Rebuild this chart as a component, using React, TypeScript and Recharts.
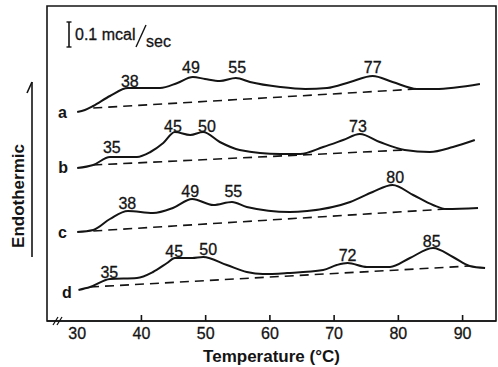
import { LineChart, Line, XAxis, YAxis, ReferenceDot, ReferenceArea } from 'recharts';

const FONT = '"Liberation Sans", Arial, Helvetica, sans-serif';
const INK = '#141414';

// temperature (°C) and heat flow (arbitrary units) for each sample
const tempA = [30.0, 31.2, 32.5, 35.1, 37.9, 42.9, 45.6, 48.0, 49.9, 52.2, 54.7, 56.9, 61.6, 65.5, 68.9, 72.5, 76.0, 79.1, 82.9, 85.7, 92.7];
const heatA = [209, 211, 215, 225, 233, 233, 238, 244, 242, 240, 243, 239, 234, 232, 233, 239, 245, 239, 232, 232, 237];

const tempB = [30.0, 32.5, 35.1, 39.3, 41.4, 43.4, 45.2, 47.6, 49.6, 52.2, 55.3, 61.6, 64.7, 68.3, 71.4, 74.0, 77.1, 81.0, 84.9, 88.5, 91.9];
const heatB = [153, 156, 164, 164, 169, 178, 189, 186, 189, 179, 171, 167, 167, 174, 181, 187, 179, 171, 169, 174, 181];

const tempC = [30.0, 32.5, 35.1, 37.9, 41.8, 44.9, 47.9, 51.2, 54.1, 56.4, 63.1, 65.8, 72.5, 76.0, 79.1, 82.3, 85.4, 87.5, 92.4];
const heatC = [89, 91, 102, 110, 108, 113, 122, 116, 119, 114, 109, 110, 119, 129, 136, 126, 116, 112, 113];

const tempD = [30.2, 32.0, 35.1, 39.3, 41.8, 44.0, 45.2, 47.9, 49.6, 53.3, 56.4, 58.9, 62.7, 68.3, 70.4, 72.1, 75.1, 78.7, 81.8, 85.4, 88.5, 91.1, 93.5];
const heatD = [31, 34, 42, 43, 49, 58, 63, 63, 64, 56, 49, 47, 48, 51, 56, 58, 54, 54, 63, 73, 64, 55, 53];

// dashed baselines: [start, end]
const baseTempA = [32.5, 82.9];
const baseHeatA = [213, 232];
const baseTempB = [32.5, 81.0];
const baseHeatB = [156, 171];
const baseTempC = [32.5, 87.5];
const baseHeatC = [90, 112];
const baseTempD = [32.0, 91.1];
const baseHeatD = [34, 55];

// peak temperature labels
const peakText = ['38', '49', '55', '77', '35', '45', '50', '73', '38', '49', '55', '80', '35', '45', '50', '72', '85'];
const peakTemp = [38.2, 47.7, 54.9, 76.0, 35.4, 44.9, 50.2, 73.7, 37.8, 47.6, 54.3, 79.5, 35.0, 45.1, 50.4, 72.1, 85.2];
const peakHeat = [240, 254, 254, 254, 174, 195, 195, 195, 118, 130, 130, 144, 49, 70, 72, 66, 80];

const curveNames = ['a', 'b', 'c', 'd'];
const curveNameTemp = [27.7, 27.8, 27.7, 28.4];
const curveNameHeat = [209, 154, 89, 29];

const tempTicks = [30, 40, 50, 60, 70, 80, 90];
const X_DOMAIN: [number, number] = [25.3, 95.2];
const Y_DOMAIN: [number, number] = [0, 315];

const pts = (t: number[], h: number[]) => t.map((v, i) => ({ t: v, h: h[i] }));

function TempTick({ x, y, payload }: any) {
  return (
    <g>
      {payload.value !== 30 && <line x1={x} x2={x} y1={y} y2={y - 6} stroke={INK} strokeWidth={1.6} />}
      <text x={x} y={y + 18} textAnchor="middle" fontSize={16} fontFamily={FONT} fill={INK} stroke={INK} strokeWidth={0.3}>
        {payload.value}
      </text>
    </g>
  );
}

const curves = [
  pts(tempA, heatA),
  pts(tempB, heatB),
  pts(tempC, heatC),
  pts(tempD, heatD),
];
const baselines = [
  pts(baseTempA, baseHeatA),
  pts(baseTempB, baseHeatB),
  pts(baseTempC, baseHeatC),
  pts(baseTempD, baseHeatD),
];

export default function App() {
  return (
    <div style={{ position: 'absolute', left: 0, top: 0, width: 498, height: 367, background: '#fff' }}>
      <LineChart width={498} height={367} margin={{ top: 6, right: 2, left: 47, bottom: 0 }}>
        <XAxis
          dataKey="t"
          type="number"
          domain={X_DOMAIN}
          ticks={tempTicks}
          allowDataOverflow
          height={46}
          tickSize={0}
          tickMargin={0}
          tick={<TempTick />}
          axisLine={{ stroke: INK, strokeWidth: 1.6 }}
          label={{
            value: 'Temperature (°C)',
            position: 'insideBottom',
            offset: 5,
            fontSize: 17,
            fontWeight: 'bold',
            fontFamily: FONT,
            fill: INK,
          }}
        />
        <YAxis type="number" dataKey="h" domain={Y_DOMAIN} hide allowDataOverflow />
        <ReferenceArea
          x1={X_DOMAIN[0]}
          x2={X_DOMAIN[1]}
          y1={Y_DOMAIN[0]}
          y2={Y_DOMAIN[1]}
          fill="none"
          fillOpacity={0}
          stroke={INK}
          strokeWidth={1.6}
        />
        {baselines.map((d, i) => (
          <Line
            key={'base' + i}
            data={d}
            dataKey="h"
            type="linear"
            stroke={INK}
            strokeWidth={1.6}
            strokeDasharray="9 6"
            dot={false}
            isAnimationActive={false}
          />
        ))}
        {curves.map((d, i) => (
          <Line
            key={'curve' + i}
            data={d}
            dataKey="h"
            type="monotone"
            stroke={INK}
            strokeWidth={2}
            dot={false}
            isAnimationActive={false}
          />
        ))}
        {peakText.map((txt, i) => (
          <ReferenceDot
            key={'pk' + i}
            x={peakTemp[i]}
            y={peakHeat[i]}
            r={0}
            stroke="none"
            fill="none"
            label={{ value: txt, position: 'center', fontSize: 16, fontFamily: FONT, fill: INK, stroke: INK, strokeWidth: 0.3 }}
          />
        ))}
        {curveNames.map((n, i) => (
          <ReferenceDot
            key={'nm' + i}
            x={curveNameTemp[i]}
            y={curveNameHeat[i]}
            r={0}
            stroke="none"
            fill="none"
            label={{ value: n, position: 'center', fontSize: 16, fontWeight: 'bold', fontFamily: FONT, fill: INK }}
          />
        ))}
      </LineChart>
      <svg
        width={498}
        height={367}
        style={{ position: 'absolute', left: 0, top: 0, pointerEvents: 'none' }}
      >
        {/* scale bar */}
        <line x1={69} x2={69} y1={22} y2={47} stroke={INK} strokeWidth={1.6} />
        <line x1={66.5} x2={71.5} y1={22} y2={22} stroke={INK} strokeWidth={1.4} />
        <line x1={66.5} x2={71.5} y1={47} y2={47} stroke={INK} strokeWidth={1.4} />
        <text x={75} y={40} fontSize={16} fontFamily={FONT} fill={INK} stroke={INK} strokeWidth={0.3}>0.1 mcal</text>
        <line x1={146} y1={25} x2={136} y2={47} stroke={INK} strokeWidth={1.4} />
        <text x={146} y={47} fontSize={16} fontFamily={FONT} fill={INK} stroke={INK} strokeWidth={0.3}>sec</text>
        {/* endothermic arrow */}
        <line x1={32} x2={32} y1={82} y2={257} stroke={INK} strokeWidth={1.6} />
        <line x1={32} y1={82} x2={27} y2={93} stroke={INK} strokeWidth={1.6} />
        <text
          x={18}
          y={196}
          transform="rotate(-90 18 196)"
          textAnchor="middle"
          dominantBaseline="central"
          fontSize={17}
          fontWeight="bold"
          fontFamily={FONT}
          fill={INK}
        >
          Endothermic
        </text>
        {/* axis break */}
        <line x1={53} y1={325} x2={58} y2={317} stroke={INK} strokeWidth={1.3} />
        <line x1={57} y1={325} x2={62} y2={317} stroke={INK} strokeWidth={1.3} />
      </svg>
    </div>
  );
}
